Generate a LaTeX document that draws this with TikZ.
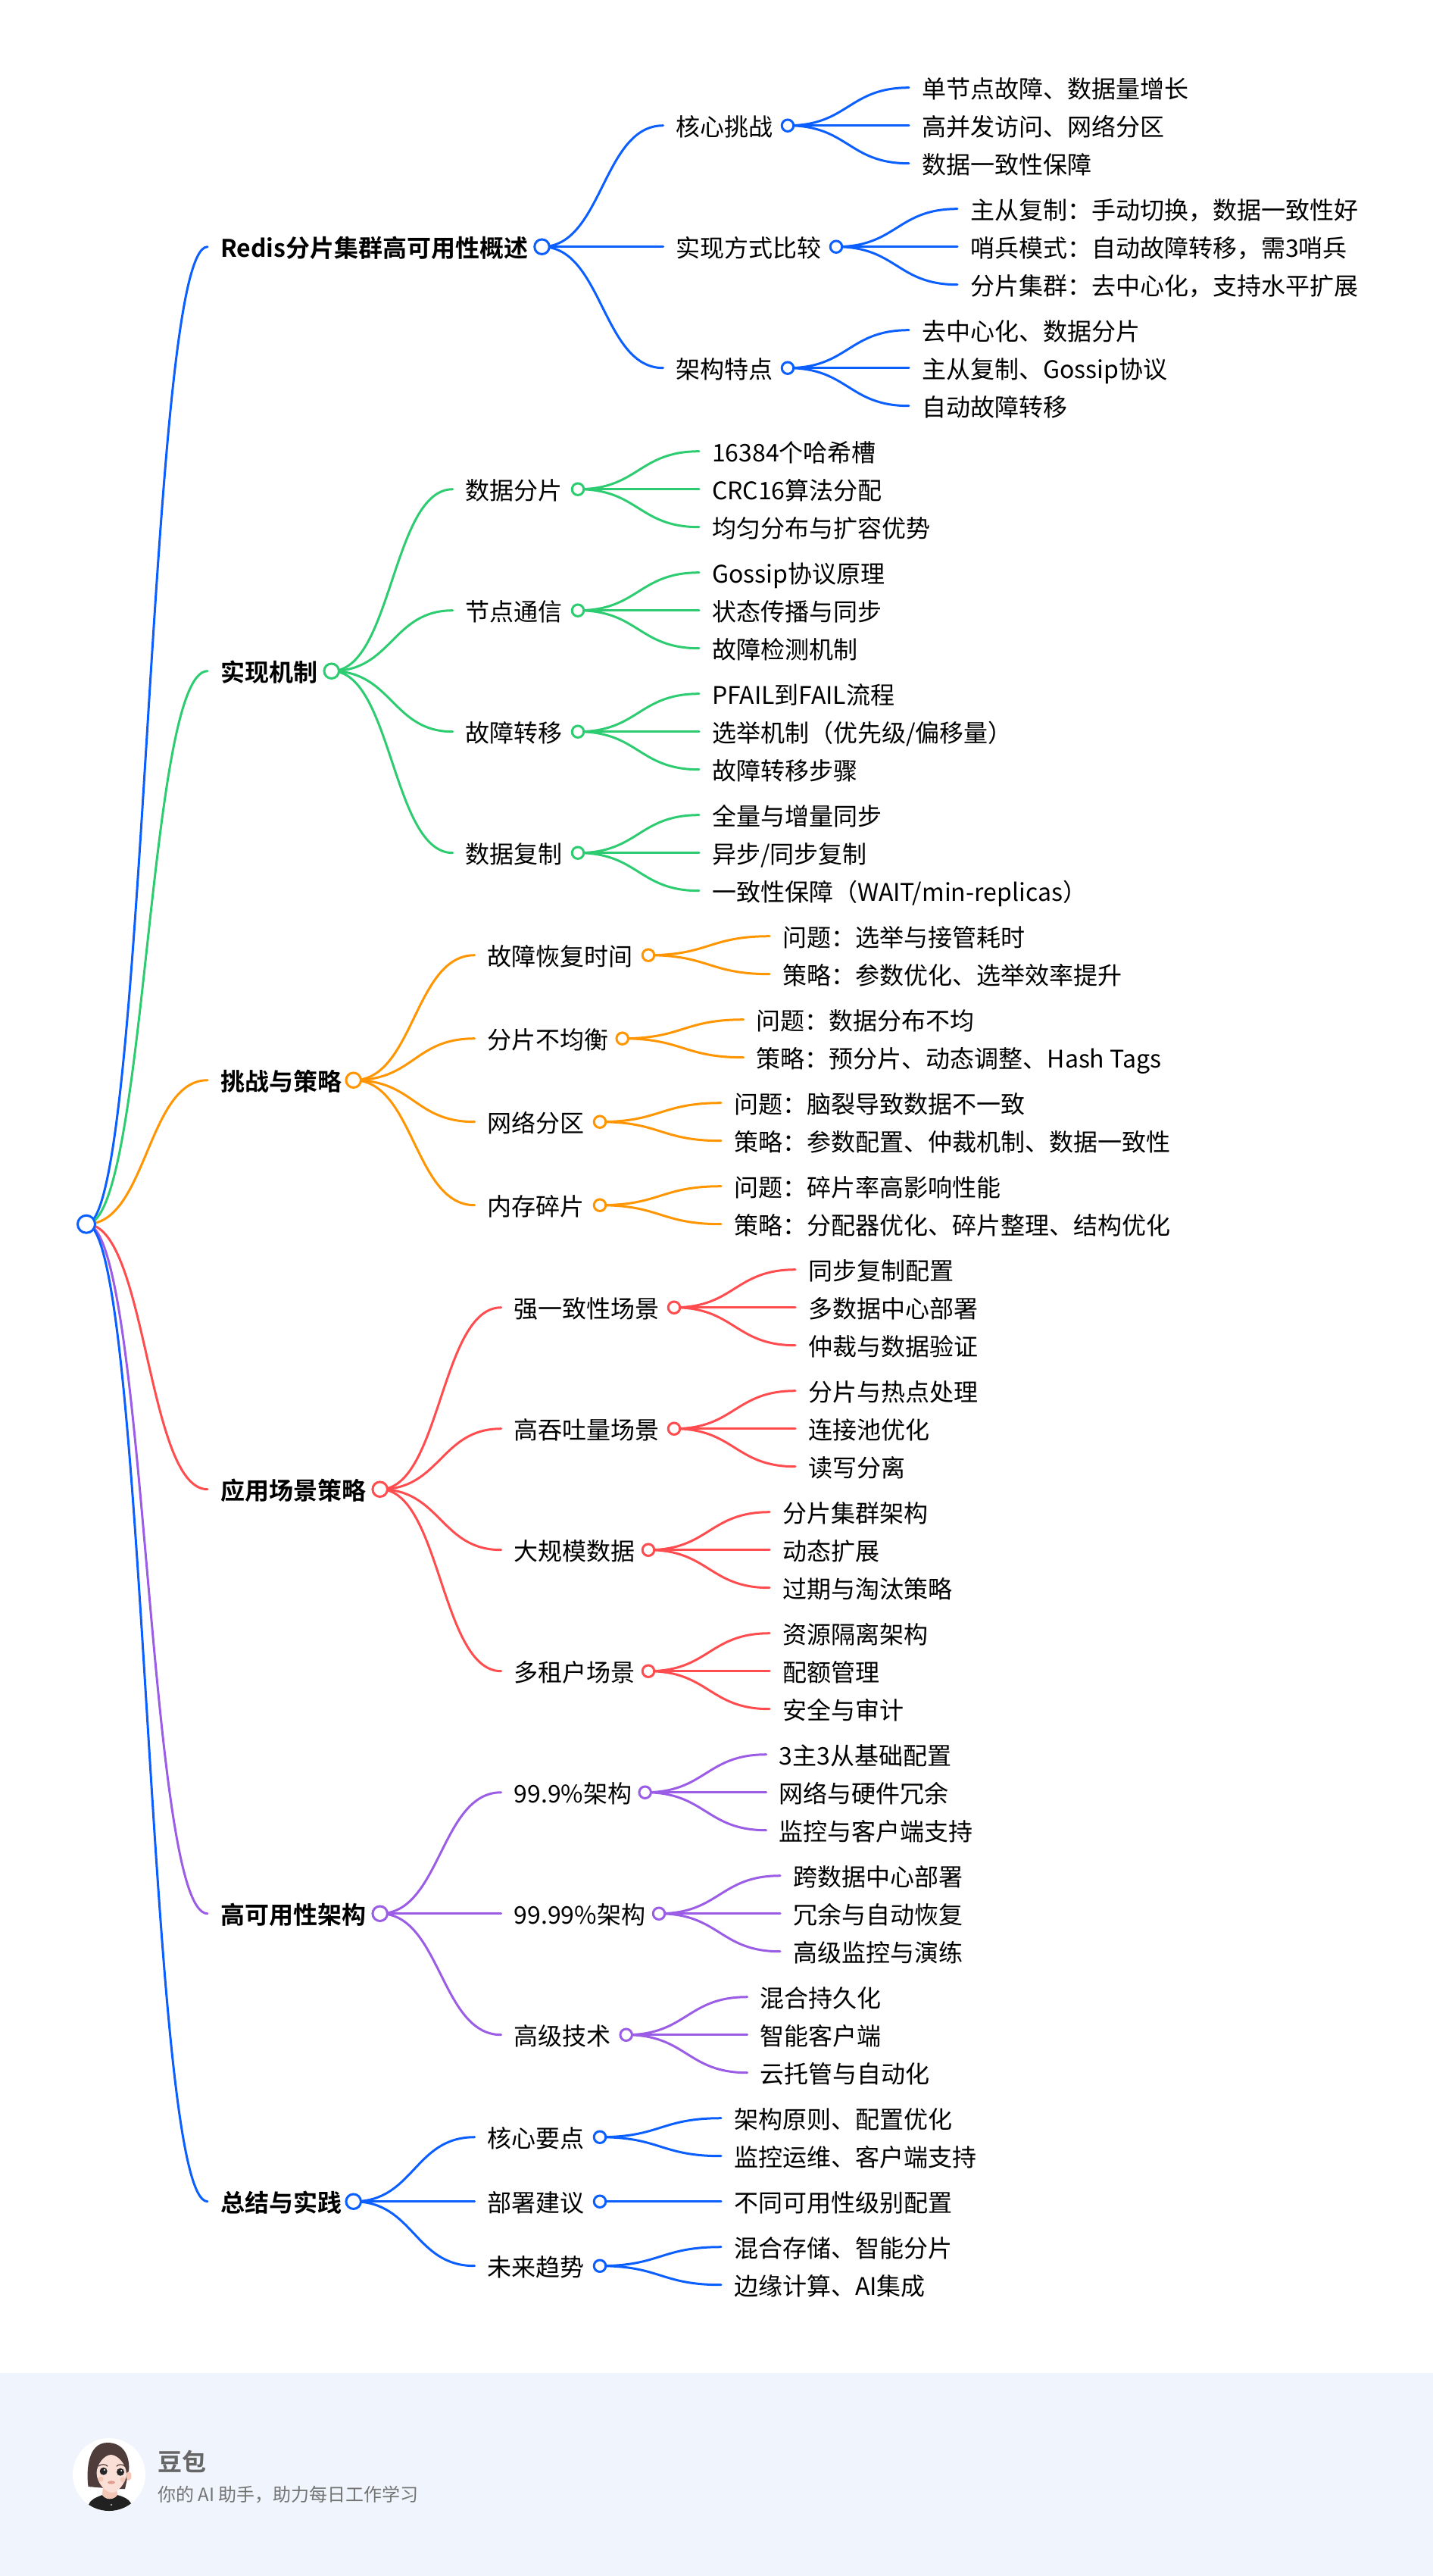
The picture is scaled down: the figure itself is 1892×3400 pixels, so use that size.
\documentclass[tikz,border=0pt]{standalone}
\usepackage{fontspec}
\setmainfont{Noto Sans CJK SC}[BoldFont={Noto Sans CJK SC Bold}]
\usetikzlibrary{calc,backgrounds}
\definecolor{cblue}{HTML}{0B5FFF}
\definecolor{cgreen}{HTML}{2ECC71}
\definecolor{corange}{HTML}{FF9500}
\definecolor{cred}{HTML}{FF4D4F}
\definecolor{cpurple}{HTML}{9B5DE5}
\definecolor{footbg}{HTML}{F0F4FC}
\definecolor{skinb}{HTML}{F3C6B6}
\definecolor{skina}{HTML}{F9DFD5}
\definecolor{hairc}{HTML}{4E3D3A}
\definecolor{lipc}{HTML}{E09C8E}
\tikzset{
  edge/.style={line width=3pt,line cap=round},
  lab/.style={anchor=west,inner xsep=16.8pt,inner ysep=0pt,text height=30pt,text depth=2pt,text=black,font=\fontsize{32}{38}\selectfont},
  boldlab/.style={lab,font=\fontsize{32}{38}\selectfont\bfseries},
  dotA/.style={circle,draw,fill=white,line width=3pt,inner sep=0pt,minimum size=19.5pt},
  dotB/.style={circle,draw,fill=white,line width=3pt,inner sep=0pt,minimum size=15.5pt},
  dotR/.style={circle,draw=cblue,fill=white,line width=3pt,inner sep=0pt,minimum size=23pt}
}
\newcommand\linkto[3]{\begin{pgfonlayer}{background}
  \coordinate (lm) at ($(#2.center)!.5!(#3.west)$);
  \draw[edge,#1] (#2.center) .. controls (#2.center -| lm) and (#3.west -| lm) .. (#3.west);
\end{pgfonlayer}}
% id, colour, parent, edge end x, y, dot x, text
\newcommand\topnode[7]{\node[boldlab] (#1) at (#4,#5) {#7};
  \node[dotA,draw=#2] (#1c) at (#6,#5) {};\linkto{#2}{#3}{#1}}
\newcommand\midnode[7]{\node[lab] (#1) at (#4,#5) {#7};
  \node[dotB,draw=#2] (#1c) at (#6,#5) {};\linkto{#2}{#3}{#1}}
% id, colour, parent, edge end x, y, text
\newcommand\leaf[6]{\node[lab] (#1) at (#4,#5) {#6};\linkto{#2}{#3}{#1}}
\begin{document}
\begin{tikzpicture}[x=1pt,y=-1pt]
\useasboundingbox (0,0) rectangle (1892,3400);
\fill[footbg] (0,3132) rectangle (1892,3400);
\node[dotR] (root) at (114,1615.7) {};

\topnode{a}{cblue}{root}{274}{325.7}{715.5}{Redis分片集群高可用性概述}
\midnode{aa}{cblue}{ac}{875.5}{165.7}{1040}{核心挑战}
\leaf{aa1}{cblue}{aac}{1200}{115.7}{单节点故障、数据量增长}
\leaf{aa2}{cblue}{aac}{1200}{165.7}{高并发访问、网络分区}
\leaf{aa3}{cblue}{aac}{1200}{215.7}{数据一致性保障}
\midnode{ab}{cblue}{ac}{875.5}{325.7}{1104}{实现方式比较}
\leaf{ab1}{cblue}{abc}{1264}{275.7}{主从复制：手动切换，数据一致性好}
\leaf{ab2}{cblue}{abc}{1264}{325.7}{哨兵模式：自动故障转移，需3哨兵}
\leaf{ab3}{cblue}{abc}{1264}{375.7}{分片集群：去中心化，支持水平扩展}
\midnode{ad}{cblue}{ac}{875.5}{485.7}{1040}{架构特点}
\leaf{ad1}{cblue}{adc}{1200}{435.7}{去中心化、数据分片}
\leaf{ad2}{cblue}{adc}{1200}{485.7}{主从复制、Gossip协议}
\leaf{ad3}{cblue}{adc}{1200}{535.7}{自动故障转移}

\topnode{b}{cgreen}{root}{274}{885.7}{437.7}{实现机制}
\midnode{ba}{cgreen}{bc}{597.7}{645.7}{763}{数据分片}
\leaf{ba1}{cgreen}{bac}{923}{595.7}{16384个哈希槽}
\leaf{ba2}{cgreen}{bac}{923}{645.7}{CRC16算法分配}
\leaf{ba3}{cgreen}{bac}{923}{695.7}{均匀分布与扩容优势}
\midnode{bb}{cgreen}{bc}{597.7}{805.7}{763}{节点通信}
\leaf{bb1}{cgreen}{bbc}{923}{755.7}{Gossip协议原理}
\leaf{bb2}{cgreen}{bbc}{923}{805.7}{状态传播与同步}
\leaf{bb3}{cgreen}{bbc}{923}{855.7}{故障检测机制}
\midnode{bd}{cgreen}{bc}{597.7}{965.7}{763}{故障转移}
\leaf{bd1}{cgreen}{bdc}{923}{915.7}{PFAIL到FAIL流程}
\leaf{bd2}{cgreen}{bdc}{923}{965.7}{选举机制（优先级/偏移量）}
\leaf{bd3}{cgreen}{bdc}{923}{1015.7}{故障转移步骤}
\midnode{be}{cgreen}{bc}{597.7}{1125.7}{763}{数据复制}
\leaf{be1}{cgreen}{bec}{923}{1075.7}{全量与增量同步}
\leaf{be2}{cgreen}{bec}{923}{1125.7}{异步/同步复制}
\leaf{be3}{cgreen}{bec}{923}{1175.7}{一致性保障（WAIT/min-replicas）}

\topnode{c}{corange}{root}{274}{1425.7}{466.7}{挑战与策略}
\midnode{ca}{corange}{cc}{626.7}{1260.7}{856}{故障恢复时间}
\leaf{ca1}{corange}{cac}{1016}{1235.7}{问题：选举与接管耗时}
\leaf{ca2}{corange}{cac}{1016}{1285.7}{策略：参数优化、选举效率提升}
\midnode{cb}{corange}{cc}{626.7}{1370.7}{821.7}{分片不均衡}
\leaf{cb1}{corange}{cbc}{981.7}{1345.7}{问题：数据分布不均}
\leaf{cb2}{corange}{cbc}{981.7}{1395.7}{策略：预分片、动态调整、Hash Tags}
\midnode{cd}{corange}{cc}{626.7}{1480.7}{792}{网络分区}
\leaf{cd1}{corange}{cdc}{952}{1455.7}{问题：脑裂导致数据不一致}
\leaf{cd2}{corange}{cdc}{952}{1505.7}{策略：参数配置、仲裁机制、数据一致性}
\midnode{ce}{corange}{cc}{626.7}{1590.7}{792}{内存碎片}
\leaf{ce1}{corange}{cec}{952}{1565.7}{问题：碎片率高影响性能}
\leaf{ce2}{corange}{cec}{952}{1615.7}{策略：分配器优化、碎片整理、结构优化}

\topnode{d}{cred}{root}{274}{1965.7}{501.7}{应用场景策略}
\midnode{da}{cred}{dc}{661.7}{1725.7}{890}{强一致性场景}
\leaf{da1}{cred}{dac}{1050}{1675.7}{同步复制配置}
\leaf{da2}{cred}{dac}{1050}{1725.7}{多数据中心部署}
\leaf{da3}{cred}{dac}{1050}{1775.7}{仲裁与数据验证}
\midnode{db}{cred}{dc}{661.7}{1885.7}{890}{高吞吐量场景}
\leaf{db1}{cred}{dbc}{1050}{1835.7}{分片与热点处理}
\leaf{db2}{cred}{dbc}{1050}{1885.7}{连接池优化}
\leaf{db3}{cred}{dbc}{1050}{1935.7}{读写分离}
\midnode{dd}{cred}{dc}{661.7}{2045.7}{856}{大规模数据}
\leaf{dd1}{cred}{ddc}{1016}{1995.7}{分片集群架构}
\leaf{dd2}{cred}{ddc}{1016}{2045.7}{动态扩展}
\leaf{dd3}{cred}{ddc}{1016}{2095.7}{过期与淘汰策略}
\midnode{de}{cred}{dc}{661.7}{2205.7}{856}{多租户场景}
\leaf{de1}{cred}{dec}{1016}{2155.7}{资源隔离架构}
\leaf{de2}{cred}{dec}{1016}{2205.7}{配额管理}
\leaf{de3}{cred}{dec}{1016}{2255.7}{安全与审计}

\topnode{e}{cpurple}{root}{274}{2525.7}{501.7}{高可用性架构}
\midnode{ea}{cpurple}{ec}{661.7}{2365.7}{851.7}{99.9\%架构}
\leaf{ea1}{cpurple}{eac}{1011.7}{2315.7}{3主3从基础配置}
\leaf{ea2}{cpurple}{eac}{1011.7}{2365.7}{网络与硬件冗余}
\leaf{ea3}{cpurple}{eac}{1011.7}{2415.7}{监控与客户端支持}
\midnode{eb}{cpurple}{ec}{661.7}{2525.7}{870}{99.99\%架构}
\leaf{eb1}{cpurple}{ebc}{1030}{2475.7}{跨数据中心部署}
\leaf{eb2}{cpurple}{ebc}{1030}{2525.7}{冗余与自动恢复}
\leaf{eb3}{cpurple}{ebc}{1030}{2575.7}{高级监控与演练}
\midnode{ed}{cpurple}{ec}{661.7}{2685.7}{826.7}{高级技术}
\leaf{ed1}{cpurple}{edc}{986.7}{2635.7}{混合持久化}
\leaf{ed2}{cpurple}{edc}{986.7}{2685.7}{智能客户端}
\leaf{ed3}{cpurple}{edc}{986.7}{2735.7}{云托管与自动化}

\topnode{f}{cblue}{root}{274}{2905.7}{466.7}{总结与实践}
\midnode{fa}{cblue}{fc}{626.7}{2820.7}{792}{核心要点}
\leaf{fa1}{cblue}{fac}{952}{2795.7}{架构原则、配置优化}
\leaf{fa2}{cblue}{fac}{952}{2845.7}{监控运维、客户端支持}
\midnode{fb}{cblue}{fc}{626.7}{2905.7}{792}{部署建议}
\leaf{fb1}{cblue}{fbc}{952}{2905.7}{不同可用性级别配置}
\midnode{fd}{cblue}{fc}{626.7}{2990.7}{792}{未来趋势}
\leaf{fd1}{cblue}{fdc}{952}{2965.7}{混合存储、智能分片}
\leaf{fd2}{cblue}{fdc}{952}{3015.7}{边缘计算、AI集成}

% avatar
\fill[white] (144,3266) circle (48);
\begin{scope}
\clip (144,3266) circle (48);
% shirt
\fill[black!87] (117,3306) .. controls (120,3298) and (128,3296) .. (135,3293) .. controls (140,3300) and (150,3300) .. (155,3293) .. controls (162,3295) and (170,3298) .. (173,3304) .. controls (166,3316) and (126,3318) .. (117,3306) -- cycle;
% neck
\fill[skinb] (136,3282) -- (154,3282) -- (155,3293) .. controls (150,3300) and (140,3300) .. (135,3293) -- cycle;
% hair
\fill[hairc] (116.5,3282) .. controls (114,3262) and (115,3224) .. (142,3224) .. controls (165,3224) and (172,3245) .. (170,3262) -- (165,3285) -- (150,3285) -- (128,3283) -- cycle;
% ear
\fill[skinb] (170,3268) ellipse (3.5 and 6);
% face
\fill[skina] (146.5,3240) .. controls (155,3240) and (167,3252) .. (167,3266) .. controls (166,3278) and (155,3290) .. (148,3290) .. controls (140,3290) and (128,3278) .. (127.5,3264) .. controls (128,3252) and (138,3240) .. (146.5,3240) -- cycle;
% brows
\draw[hairc,line width=1.2pt,line cap=round] (130,3255) .. controls (134,3252) and (139,3252) .. (142,3255);
\draw[hairc,line width=1.2pt,line cap=round] (154,3255) .. controls (157,3252) and (162,3252) .. (166,3256);
% eyes
\fill[black!85] (136.7,3261.7) circle (5);
\fill[black!85] (159,3262.7) circle (5);
\fill[white] (138,3260) circle (1.1);
\fill[white] (160.3,3261) circle (1.1);
% cheeks and mouth
\fill[skinb] (133,3272) circle (3.5);
\fill[skinb] (162,3273) circle (3.5);
\fill[lipc] (147,3276.5) ellipse (5 and 2.2);
% button
\fill[black!35] (147,3306) circle (1.3);
\end{scope}
\node[anchor=west,inner sep=0pt,text height=28pt,text depth=4pt,text=black!60,font=\fontsize{32}{38}\selectfont\bfseries] (brand) at (208,3249) {豆包};
\node[anchor=west,inner sep=0pt,text height=21pt,text depth=3pt,text=black!55,font=\fontsize{24}{30}\selectfont] (slogan) at (208,3292) {你的 AI 助手，助力每日工作学习};
\end{tikzpicture}
\end{document}
